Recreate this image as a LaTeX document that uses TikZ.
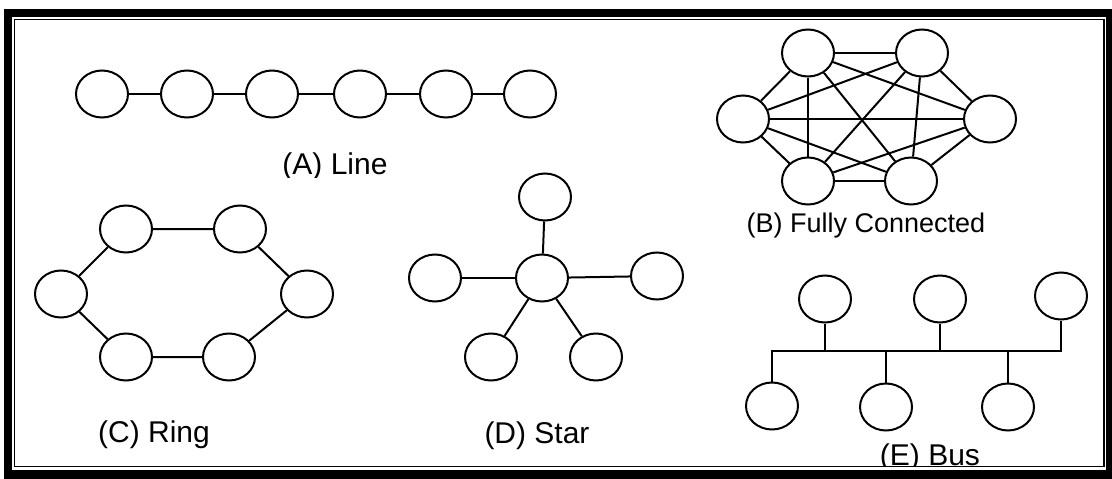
\documentclass[tikz,border=0pt]{standalone}
\usepackage{fontspec}
\setmainfont{Liberation Sans}
\usetikzlibrary{shapes.geometric}

\tikzset{
  nd/.style={draw, ellipse, line width=2pt, minimum width=52pt, minimum height=47pt, inner sep=0pt},
  lbl/.style={font=\fontsize{30}{36}\selectfont, inner sep=0pt, anchor=base},
}

\begin{document}
\begin{tikzpicture}[x=1pt, y=-1pt, line width=2pt]
  \useasboundingbox (0,0) rectangle (1112,479);
  % double frame
  \fill (4,9) rectangle (1112,479);
  \fill[white] (12,17) rectangle (1106,470);
  \draw[line width=1.5pt] (14.5,19.5) rectangle (1104,466.5);

  \begin{scope}
  \clip (15.25,20.25) rectangle (1103.25,465.75);

  % (A) line
  \foreach \i/\x in {1/102,2/187,3/272,4/360,5/446,6/530}
    \node[nd] (a\i) at (\x,94) {};
  \foreach \i [count=\j from 2] in {1,...,5}
    \draw (a\i) -- (a\j);
  \begin{scope}
    \clip (250,120) rectangle (420,177);
    \node[lbl] (la) at (335,174) {(A) Line};
  \end{scope}

  % (B) fully connected
  \node[nd] (b1) at (808,53) {};
  \node[nd] (b2) at (922,53) {};
  \node[nd] (b3) at (743,119) {};
  \node[nd] (b4) at (990,119) {};
  \node[nd] (b5) at (808,181) {};
  \node[nd] (b6) at (911,181) {};
  \foreach \i [evaluate=\i as \k using int(\i+1)] in {1,...,5}
    \foreach \j in {\k,...,6}
      \draw (b\i) -- (b\j);
  \node[lbl, font=\fontsize{27}{32}\selectfont] (lb) at (866,232) {(B) Fully Connected};

  % (C) ring
  \node[nd] (c1) at (126,229) {};
  \node[nd] (c2) at (240,229) {};
  \node[nd] (c3) at (307,294) {};
  \node[nd] (c4) at (229,357) {};
  \node[nd] (c5) at (126,357) {};
  \node[nd] (c6) at (61,294) {};
  \draw (c1) -- (c2) -- (c3) -- (c4) -- (c5) -- (c6) -- (c1);
  \node[lbl] (lc) at (154,442) {(C) Ring};

  % (D) star
  \node[nd] (d0) at (542,278) {};
  \node[nd] (d1) at (545,197) {};
  \node[nd] (d2) at (435,278) {};
  \node[nd] (d3) at (657,276) {};
  \node[nd] (d4) at (491,357) {};
  \node[nd] (d5) at (596,357) {};
  \foreach \i in {1,...,5}
    \draw (d0) -- (d\i);
  \node[lbl] (ld) at (537,443) {(D) Star};

  % (E) bus
  \node[nd] (e1) at (825,299) {};
  \node[nd] (e2) at (940,299) {};
  \node[nd] (e3) at (1061,296) {};
  \node[nd] (e4) at (772,406) {};
  \node[nd] (e5) at (886,407) {};
  \node[nd] (e6) at (1008,407) {};
  \coordinate (bus) at (0,351);
  \draw (e4.north) |- (bus -| e3.south) -- (e3.south);
  \foreach \n in {e1,e2}
    \draw (\n.south) -- (\n.south |- bus);
  \foreach \n in {e5,e6}
    \draw (\n.north) -- (\n.north |- bus);
  \node[lbl] (le) at (930,465) {(E) Bus};
  \end{scope}
\end{tikzpicture}
\end{document}
